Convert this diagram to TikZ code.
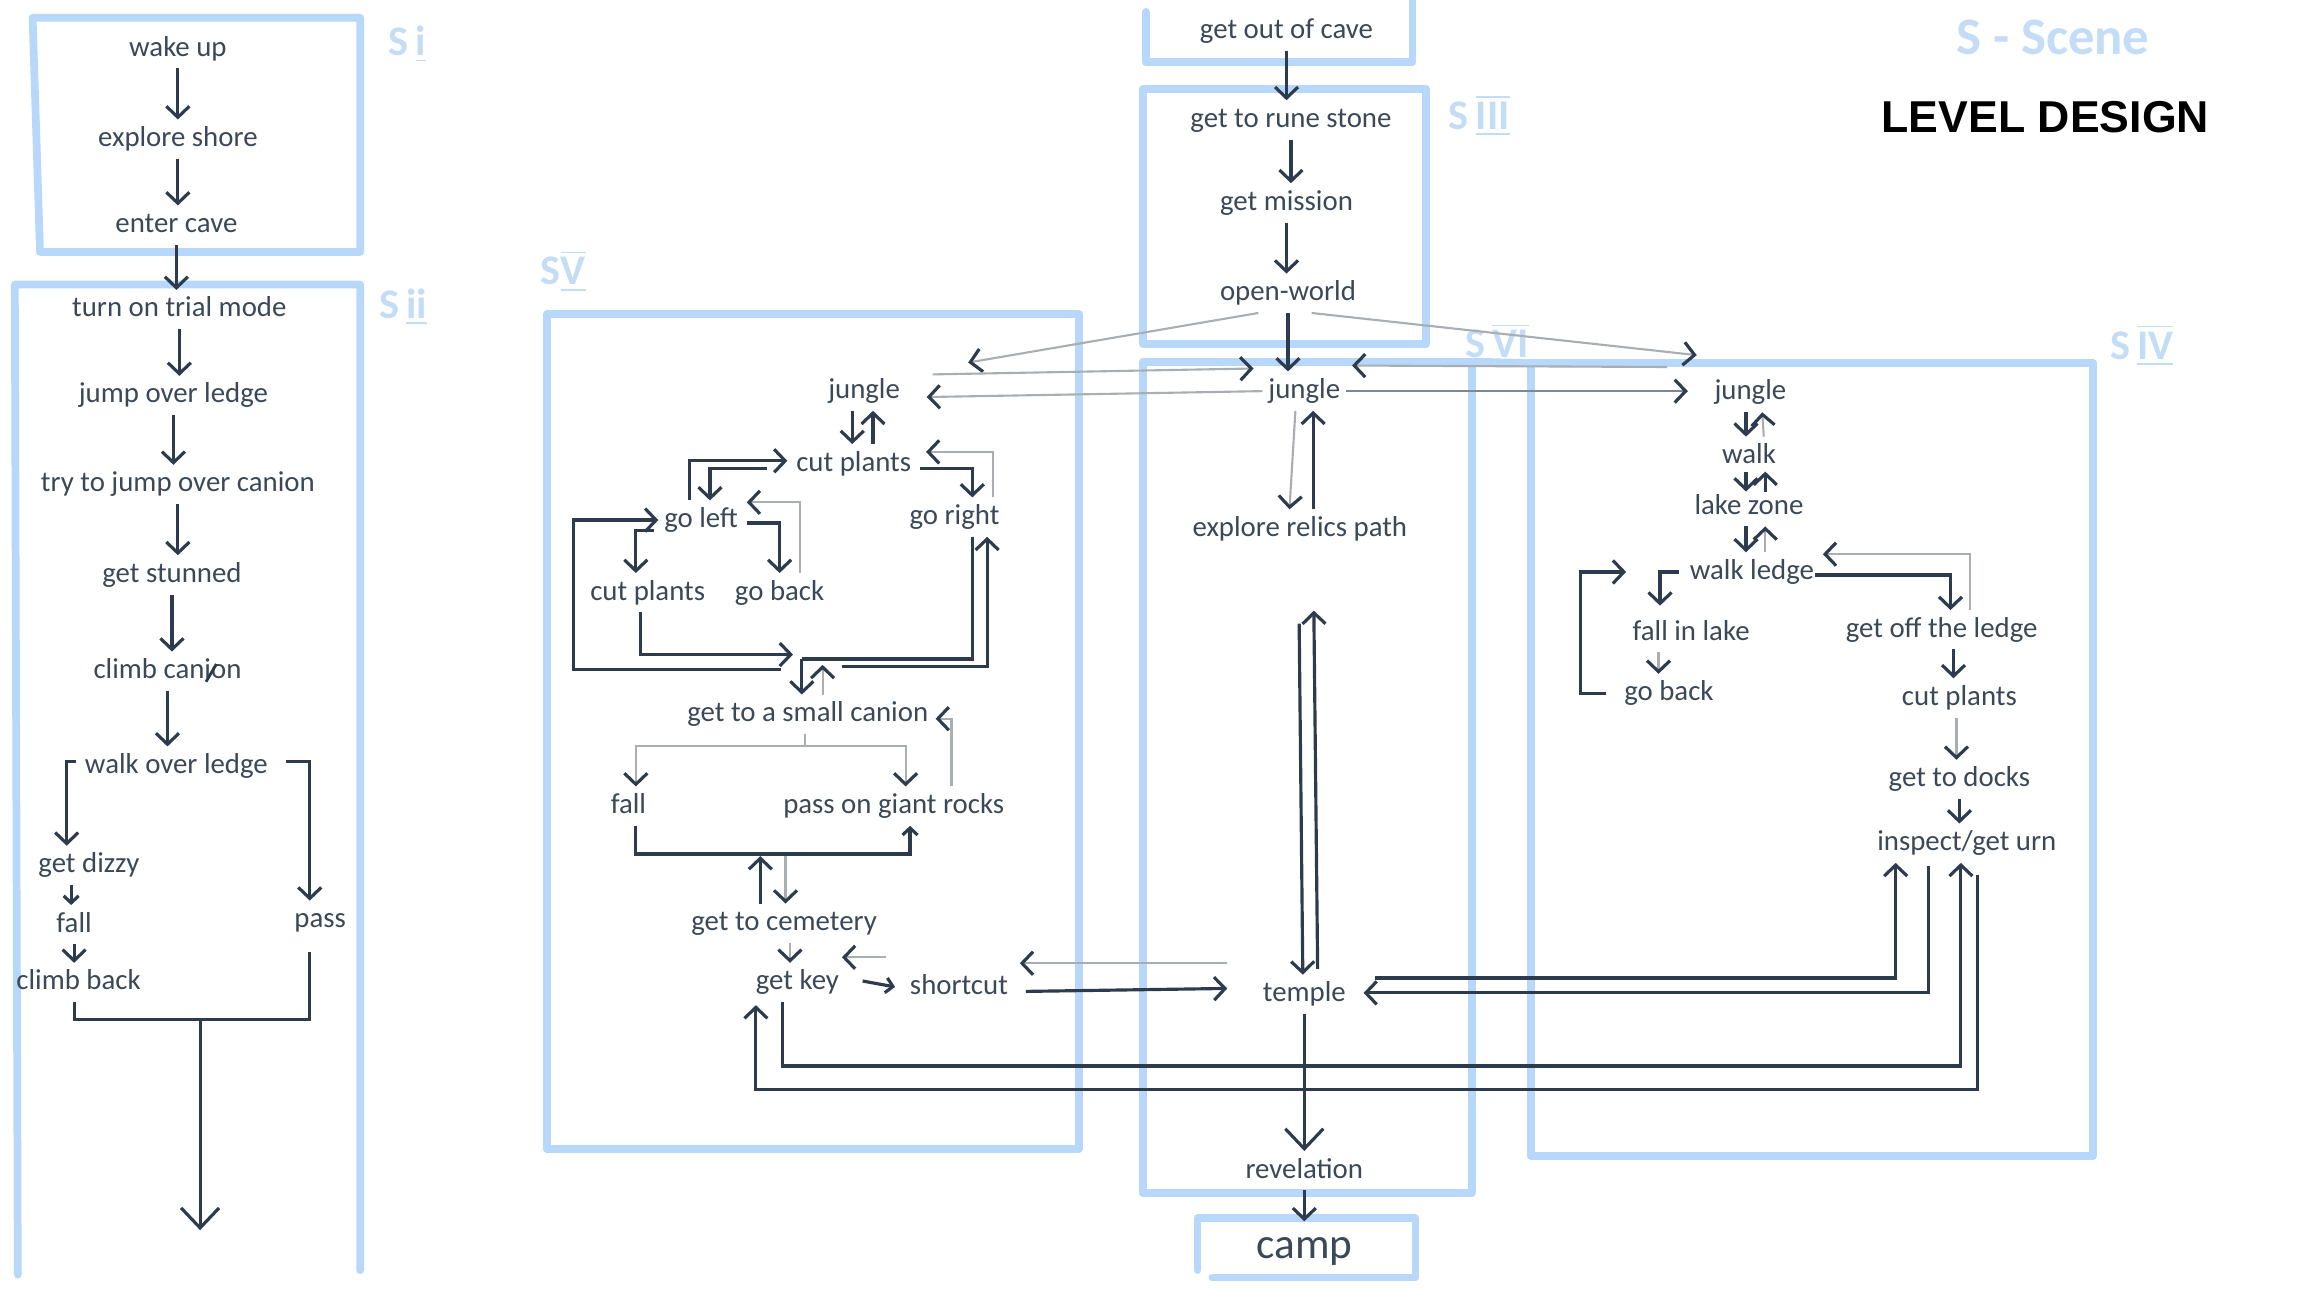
\documentclass[tikz,border=0pt]{standalone}
\usepackage{fontspec}
\setmainfont{Carlito}
\newfontfamily\headfont{Liberation Sans}
\usetikzlibrary{arrows.meta,calc}

\definecolor{ink}{HTML}{3A4858}
\definecolor{pen}{HTML}{2C3C4E}
\definecolor{faint}{HTML}{A9AEB3}
\definecolor{midgray}{HTML}{7E8893}
\definecolor{sky}{HTML}{B7D8FA}
\definecolor{tagblue}{HTML}{C4DDF7}

\newcommand\lblfont{\fontsize{8.2}{9}\selectfont}

\tikzset{
  lbl/.style={font=\lblfont, text=ink, inner sep=1.5pt, text height=6pt, text depth=1.8pt, yshift=-0.8pt},
  arr/.style={draw=pen, line width=0.9pt, -{Straight Barb[length=1.1mm,width=2.3mm]}},
  flow/.style={draw=pen, line width=0.9pt},
  parr/.style={draw=faint, line width=0.6pt, -{Straight Barb[length=1.1mm,width=2.3mm,color=pen,line width=0.9pt]}},
  bighead/.style={-{Straight Barb[length=2mm,width=3.8mm]}},
  smalltip/.style={-{Straight Barb[length=0.7mm,width=1.5mm]}},
  scene/.style={draw=sky, line width=2.2pt, line cap=round, line join=round},
  tag/.style={text=tagblue, font=\fontsize{12}{12}\selectfont\bfseries}
}

\begin{document}
\begin{tikzpicture}[x=0.148214mm, y=-0.148214mm]

\fill[white] (0,0) rectangle (1568,880);
\useasboundingbox (0,0) rectangle (1568,880);

% Scene outlines
\draw[scene] (22,12) -- (243,12) -- (243,170) -- (27,170) -- cycle;
\draw[scene] (12,860) -- (10,192) -- (243,192) -- (243,857);
\draw[scene] (773,8) -- (773,42) -- (953,42) -- (953,0);
\draw[scene] (771,60) rectangle (962,232);
\draw[scene] (771,244) rectangle (993,805);
\draw[scene] (993,244) -- (1033,245);
\draw[scene] (1033,245) rectangle (1412,780);
\draw[scene] (369,212) rectangle (728,775);
\draw[scene] (808,857) -- (808,822) -- (955,822) -- (955,862) -- (818,862);

% Scene tags
\node[tag] (tagI) at (275,30) {S\,\underline{i}};
\node[tag] (tagII) at (272,207) {S\,\underline{ii}};
\node[tag] (tagIII) at (998,78) {S\,$\overline{\underline{\mbox{III}}}$};
\node[tag] (tagV) at (380,183) {S$\overline{\underline{\mbox{V}}}$};
\node[tag] (tagVI) at (1010,230) {S\,$\overline{\mbox{VI}}$};
\node[tag] (tagIV) at (1445,233) {S\,$\overline{\underline{\mbox{IV}}}$};
\node[tag, font=\fontsize{15}{15}\selectfont\bfseries] (legend) at (1385,25) {S - Scene};
\node[font=\headfont\bfseries\fontsize{12.7}{14}\selectfont] (title) at (1380,79) {LEVEL DESIGN};

% Scene I and II
\node[lbl] (wake) at (120,31) {wake up};
\node[lbl] (shore) at (120,92) {explore shore};
\node[lbl] (cave) at (119,150) {enter cave};
\node[lbl] (trial) at (121,207) {turn on trial mode};
\node[lbl] (jump) at (117,265) {jump over ledge};
\node[lbl] (canion) at (120,325) {try to jump over canion};
\node[lbl] (stun) at (116,386) {get stunned};
\node[lbl] (climb) at (113,451) {climb canion};
\node[lbl] (ledge) at (119,515) {walk over ledge};
\node[lbl] (dizzy) at (60,582) {get dizzy};
\node[lbl] (fall) at (50,622) {fall};
\node[lbl] (back) at (53,661) {climb back};
\node[lbl] (pass) at (216,619) {pass};
\coordinate (join) at (135,688);
\coordinate (exit) at (135,830);

\draw[arr] (wake) -- (wake |- shore.north);
\draw[arr] (shore) -- (shore |- cave.north);
\draw[arr] (cave) -- (cave |- trial.north);
\draw[arr] (trial) -- (trial |- jump.north);
\draw[arr] (jump) -- (jump |- canion.north);
\draw[arr] (canion) -- (canion |- stun.north);
\draw[arr] (stun) -- (stun |- climb.north);
\draw[arr] (climb) -- (climb |- ledge.north);
\draw[pen, line width=0.8pt] (139,460) -- (146,448);
\draw[arr] ([shift={(-2,-3)}]ledge.west) -| (dizzy.north -| 45,0);
\draw[arr] ([shift={(8,-3)}]ledge.east) -| (pass.north -| 209,0);
\draw[arr, smalltip] ([shift={(-12,0)}]dizzy.south) -- ([shift={(-2,0)}]fall.north);
\draw[arr] (fall) -- (fall |- back.north);
\draw[flow] ([shift={(-3,0)}]back.south) |- (join) -| ([shift={(-7,8)}]pass.south);
\draw[arr, bighead] (join) -- (exit);

% Scene III and VI
\node[lbl] (outcave) at (868,19) {get out of cave};
\node[lbl] (rune) at (871,79) {get to rune stone};
\node[lbl] (mission) at (868,135) {get mission};
\node[lbl] (open) at (869,196) {open-world};
\node[lbl] (jungle) at (880,262) {jungle};
\node[lbl] (relics) at (877,355) {explore relics path};
\node[lbl] (temple) at (880,669) {temple};
\node[lbl] (reveal) at (880,788) {revelation};
\node[lbl, font=\fontsize{12.3}{13}\selectfont, text height=9pt, text depth=2.7pt] (camp) at (880,840) {camp};

\draw[arr] (outcave) -- (outcave |- rune.north);
\draw[arr] (rune) -- (rune |- mission.north);
\draw[arr] (mission) -- (mission |- open.north);
\draw[arr] (open) -- (open |- jungle.north);
\draw[parr] ([shift={(-6,0)}]jungle.south) -- ([shift={(-7,0)}]relics.north);
\draw[arr] ([shift={(9,0)}]relics.north) -- ([shift={(6,0)}]jungle.south);
\draw[arr, shorten <=7.5mm] ([shift={(-1,0)}]relics.south) -- ([shift={(-1,0)}]temple.north);
\draw[arr, shorten >=6.2mm] ([shift={(9,-4)}]temple.north) -- ([shift={(9,0)}]relics.south);
\draw[arr, bighead] (temple) -- (temple |- reveal.north);
\draw[arr] (reveal) -- (reveal |- camp.north);

% Scene V
\node[lbl] (jungleV) at (583,262) {jungle};
\node[lbl] (cutV) at (576,311) {cut plants};
\node[lbl] (left) at (473,349) {go left};
\node[lbl] (right) at (644,347) {go right};
\node[lbl] (cutL) at (437,398) {cut plants};
\node[lbl] (backV) at (526,398) {go back};
\node[lbl] (small) at (545,480) {get to a small canion};
\node[lbl] (fallV) at (424,542) {fall};
\node[lbl] (rocks) at (603,542) {pass on giant rocks};
\node[lbl] (cemetery) at (529,621) {get to cemetery};
\node[lbl] (key) at (538,661) {get key};
\node[lbl] (shortcut) at (647,664) {shortcut};

\draw[arr] ([shift={(-8,0)}]jungleV.south) -- ([shift={(-1,0)}]cutV.north);
\draw[arr] ([shift={(13,0)}]cutV.north) -- ([shift={(6,0)}]jungleV.south);
\draw[arr] ([shift={(-8,0)}]left.north) |- ([shift={(-2,-2)}]cutV.west);
\draw[arr] ([shift={(-16,3)}]cutV.west) -| ([shift={(6,0)}]left.north);
\draw[arr] ([shift={(2,3)}]cutV.east) -| ([shift={(12,0)}]right.north);
\draw[parr] ([shift={(26,0)}]right.north) |- ([shift={(6,-8)}]cutV.east);
\draw[arr] ([shift={(2,2)}]left.east) -| (backV.north);
\draw[parr] ([shift={(14,0)}]backV.north) |- ([shift={(2,-12)}]left.east);
\draw[arr] ([shift={(-3,7)}]left.west) -| ([shift={(-8,0)}]cutL.north);
\draw[arr] ([shift={(-18,-17)}]small.north) -| ([shift={(-57,0)}]left.west) -- (left.west);
\draw[arr] ([shift={(-5,0)}]cutL.south) |- ([shift={(-10,-27)}]small.north);
\draw[flow] ([shift={(12,0)}]right.south) |- ([shift={(-4,-24)}]small.north);
\draw[arr] ([shift={(-4,-24)}]small.north) -- ([shift={(-4,0)}]small.north);
\draw[parr] ([shift={(10,0)}]small.north) -- ([shift={(10,-20)}]small.north);
\draw[arr] ([shift={(23,-19)}]small.north) -| ([shift={(22,0)}]right.south);
\draw[parr] ([shift={(-2,0)}]small.south) |- ([shift={(5,-27)}]fallV.north) -- ([shift={(5,0)}]fallV.north);
\draw[parr] ([shift={(-2,0)}]small.south) |- ([shift={(8,-27)}]rocks.north) -- ([shift={(8,0)}]rocks.north);
\draw[parr] ([shift={(39,0)}]rocks.north) |- ([shift={(1,3)}]small.east);
\draw[arr, smalltip] ([shift={(5,0)}]fallV.south) |- ([shift={(11,19)}]rocks.south) -- ([shift={(11,0)}]rocks.south);
\draw[arr] ([shift={(-16,0)}]cemetery.north) -- ([shift={(-16,-32)}]cemetery.north);
\draw[parr] ([shift={(1,-32)}]cemetery.north) -- ([shift={(1,0)}]cemetery.north);
\draw[parr] ([shift={(4,0)}]cemetery.south) -- ([shift={(-5,0)}]key.north);
\draw[arr, smalltip] ([shift={(12,-1)}]key.east) -- ([shift={(-6,0)}]shortcut.west);
\draw[parr] ([shift={(-12,-20)}]shortcut.west) -- ([shift={(-2,-17)}]key.east);
\draw[arr] ([shift={(8,3)}]shortcut.east) -- ([shift={(-20,-4)}]temple.west);
\draw[parr] ([shift={(-20,-21)}]temple.west) -- ([shift={(4,-16)}]shortcut.east);

% Scene IV
\node[lbl] (jungleIV) at (1181,263) {jungle};
\node[lbl] (walk) at (1180,306) {walk};
\node[lbl] (lake) at (1180,340) {lake zone};
\node[lbl] (wledge) at (1182,384) {walk ledge};
\node[lbl] (lakefall) at (1141,425) {fall in lake};
\node[lbl] (backIV) at (1126,466) {go back};
\node[lbl] (offledge) at (1310,423) {get off the ledge};
\node[lbl] (cutIV) at (1322,469) {cut plants};
\node[lbl] (docks) at (1322,524) {get to docks};
\node[lbl] (urn) at (1327,567) {inspect/get urn};

\draw[arr] ([shift={(-3,0)}]jungleIV.south) -- ([shift={(-2,0)}]walk.north);
\draw[parr] ([shift={(10,0)}]walk.north) -- ([shift={(8,0)}]jungleIV.south);
\draw[arr] ([shift={(-2,-3)}]walk.south) -- ([shift={(-2,3)}]lake.north);
\draw[arr] ([shift={(11,3)}]lake.north) -- ([shift={(11,-3)}]walk.south);
\draw[arr] ([shift={(-2,0)}]lake.south) -- ([shift={(-4,0)}]wledge.north);
\draw[parr] ([shift={(9,0)}]wledge.north) -- ([shift={(11,0)}]lake.south);
\draw[arr] ([shift={(-3,0)}]wledge.west) -| ([shift={(-21,-5)}]lakefall.north);
\draw[parr] ([shift={(-22,0)}]lakefall.south) -- ([shift={(-7,0)}]backIV.north);
\draw[arr] ([shift={(-8,0)}]backIV.west) -| ([shift={(-70,0)}]wledge.west) -- ([shift={(-39,0)}]wledge.west);
\draw[arr] ([shift={(-3,2)}]wledge.east) -| ([shift={(6,0)}]offledge.north);
\draw[parr] ([shift={(19,0)}]offledge.north) |- ([shift={(2,-12)}]wledge.east);
\draw[arr] ([shift={(8,0)}]offledge.south) -- ([shift={(-4,0)}]cutIV.north);
\draw[parr] ([shift={(-2,0)}]cutIV.south) -- ([shift={(-2,0)}]docks.north);
\draw[arr] (docks.south) -- ([shift={(-5,0)}]urn.north);

% Links between scenes
\draw[parr] ([shift={(-20,0)}]open.south) -- ([shift={(42,-6)}]jungleV.north east);
\draw[parr] ([shift={(18,2)}]jungleV.north east) -- ([shift={(-6,-2)}]jungle.north west);
\draw[parr] (jungle.west) -- ([shift={(14,4)}]jungleV.east);
\draw[parr] ([shift={(16,0)}]open.south) -- ([shift={(-8,-12)}]jungleIV.north west);
\draw[parr] ([shift={(-28,-4)}]jungleIV.north west) -- ([shift={(4,-4)}]jungle.north east);
\draw[parr, draw=midgray] (jungle.east) -- ([shift={(-14,-1)}]jungleIV.west);
\draw[arr] ([shift={(16,-11)}]temple.east) -| ([shift={(-48,0)}]urn.south);
\draw[arr] ([shift={(-26,2)}]urn.south) |- ([shift={(8,-1)}]temple.east);
\draw[arr] ([shift={(-10,0)}]key.south) |- ([shift={(-4,137)}]urn.south) -- ([shift={(-4,0)}]urn.south);
\draw[arr] ([shift={(7,8)}]urn.south) |- ([shift={(-28,59)}]key.south) -- ([shift={(-28,2)}]key.south);

\end{tikzpicture}
\end{document}
